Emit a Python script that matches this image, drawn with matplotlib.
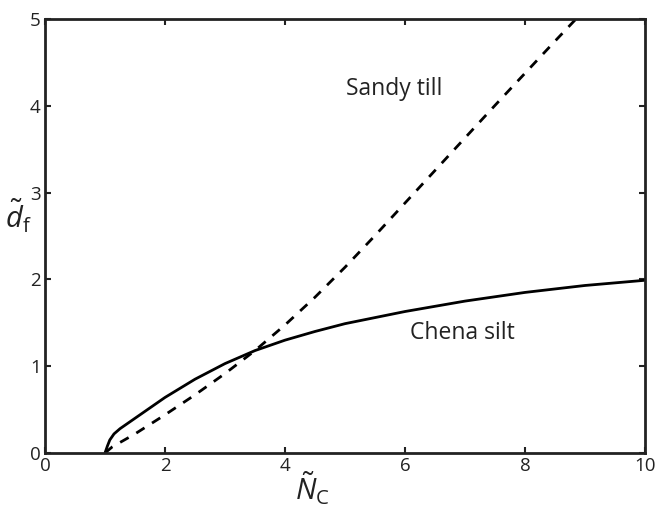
import matplotlib
matplotlib.use("Agg")
import matplotlib.pyplot as plt

# Data
chena_x = [1.0, 1.04, 1.08, 1.15, 1.25, 1.5, 2.0, 2.5, 3.0, 3.5, 4.0, 4.5, 5.0, 6.0, 7.0, 8.0, 9.0, 10.0]
chena_y = [0.0, 0.08, 0.15, 0.22, 0.28, 0.40, 0.64, 0.85, 1.03, 1.18, 1.30, 1.40, 1.49, 1.63, 1.75, 1.85, 1.93, 1.99]

sandy_x = [1.0, 1.12, 1.5, 2.0, 2.5, 3.0, 3.5, 4.0, 4.5, 5.0, 5.5, 6.0, 6.5, 7.0, 7.5, 8.0, 8.5, 8.85]
sandy_y = [0.0, 0.07, 0.22, 0.44, 0.67, 0.915, 1.18, 1.475, 1.795, 2.14, 2.505, 2.88, 3.255, 3.63, 4.005, 4.375, 4.745, 5.0]

x_ticks = [0, 2, 4, 6, 8, 10]
y_ticks = [0, 1, 2, 3, 4, 5]

plt.rcParams['font.family'] = ['Open Sans', 'DejaVu Sans']
plt.rcParams['mathtext.fontset'] = 'custom'
plt.rcParams['mathtext.it'] = 'Open Sans:italic'
plt.rcParams['mathtext.rm'] = 'Open Sans'

fig = plt.figure(figsize=(6.57, 5.11), dpi=100)
ax = fig.add_axes([45/657, 1 - 453/511, 600/657, 434/511])

ax.plot(chena_x, chena_y, color='black', lw=2.0, solid_capstyle='butt', solid_joinstyle='round')
ax.plot(sandy_x, sandy_y, color='black', lw=2.0, dashes=(3.5, 3.2))

ax.set_xlim(0, 10)
ax.set_ylim(0, 5)
ax.set_xticks(x_ticks)
ax.set_yticks(y_ticks)
ax.tick_params(direction='in', top=True, right=True, length=4, width=1.5,
               labelsize=13.5, pad=3, colors='#222222', labelcolor='#222222')
for s in ax.spines.values():
    s.set_linewidth(2.0)
    s.set_color('#222222')

ax.text(5.82, 4.19, 'Sandy till', fontsize=16.5, ha='center', va='center', color='#222222')
ax.text(6.95, 1.38, 'Chena silt', fontsize=16.5, ha='center', va='center', color='#222222')

fig.text(18/657, 1 - 216/511, r'$\tilde{d}_{\mathrm{f}}$', fontsize=21, ha='center', va='center', color='#222222')
fig.text(312/657, 1 - 488/511, r'$\tilde{N}_{\mathrm{C}}$', fontsize=21, ha='center', va='center', color='#222222')

fig.savefig('out.png', dpi=100)
